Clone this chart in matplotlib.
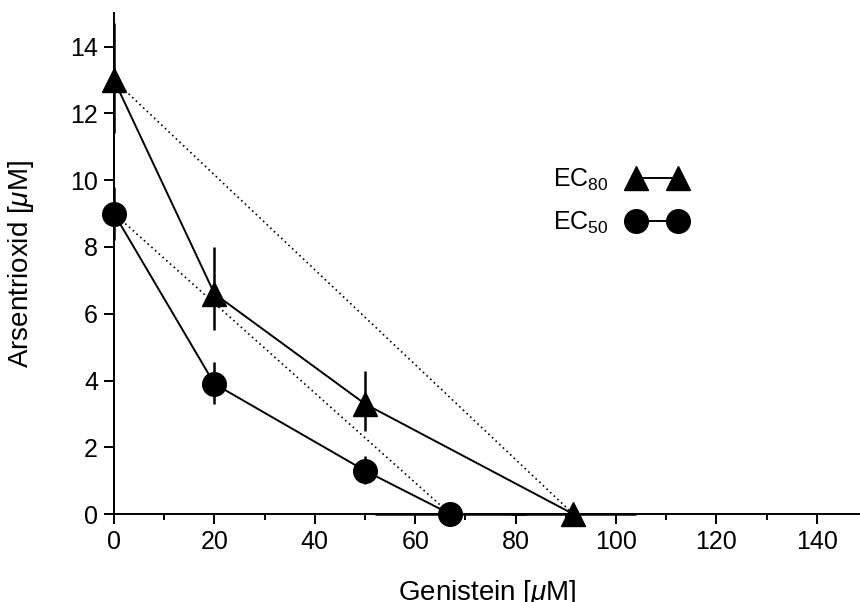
import matplotlib
matplotlib.use("Agg")
import matplotlib.pyplot as plt
from matplotlib.legend_handler import HandlerErrorbar
from matplotlib.ticker import MultipleLocator

plt.rcParams['font.family'] = ['Liberation Sans', 'DejaVu Sans']
plt.rcParams['mathtext.fontset'] = 'custom'
plt.rcParams['mathtext.rm'] = 'Liberation Sans'
plt.rcParams['mathtext.it'] = 'Liberation Sans:italic'

# EC80 isobole (triangles)
ec80_x = [0, 20, 50, 91.5]
ec80_y = [13.0, 6.6, 3.3, 0.0]
ec80_yerr_lo = [1.6, 1.1, 0.8, 0.0]
ec80_yerr_hi = [1.7, 1.4, 1.0, 0.0]
ec80_xerr = [0, 0, 0, 12.5]

# EC50 isobole (circles)
ec50_x = [0, 20, 50, 67]
ec50_y = [9.0, 3.9, 1.3, 0.0]
ec50_yerr_lo = [0.8, 0.6, 0.4, 0.0]
ec50_yerr_hi = [0.8, 0.65, 0.45, 0.0]
ec50_xerr = [0, 0, 0, 15]

fig = plt.figure(figsize=(8.6, 6.02), dpi=100)
ax = fig.add_axes([0.1326, 0.146, 0.8674, 0.832])

# additivity lines
ax.plot([ec80_x[0], ec80_x[-1]], [ec80_y[0], ec80_y[-1]], ls=(0, (1, 2)), color='black', lw=1.2)
ax.plot([ec50_x[0], ec50_x[-1]], [ec50_y[0], ec50_y[-1]], ls=(0, (1, 2)), color='black', lw=1.2)

ax.errorbar(ec80_x, ec80_y, yerr=[ec80_yerr_lo, ec80_yerr_hi], xerr=ec80_xerr,
            fmt='-^', color='black', ms=17, lw=1.4, elinewidth=1.8, capsize=0,
            label='EC$_{80}$', clip_on=False, zorder=3)
ax.errorbar(ec50_x, ec50_y, yerr=[ec50_yerr_lo, ec50_yerr_hi], xerr=ec50_xerr,
            fmt='-o', color='black', ms=17, lw=1.4, elinewidth=1.8, capsize=0,
            label='EC$_{50}$', clip_on=False, zorder=3)

ax.set_xlim(0, 148.6)
ax.set_ylim(0, 15)
ax.xaxis.set_major_locator(MultipleLocator(20))
ax.xaxis.set_minor_locator(MultipleLocator(10))
ax.set_yticks(range(0, 15, 2))

for s in ['top', 'right']:
    ax.spines[s].set_visible(False)
for s in ['left', 'bottom']:
    ax.spines[s].set_linewidth(1.4)
ax.tick_params(which='major', length=7.5, width=1.4, labelsize=18, pad=4)
ax.tick_params(which='minor', length=4, width=1.4)

ax.set_xlabel('Genistein [$\\mathit{\\mu}$M]', fontsize=20)
ax.set_ylabel('Arsentrioxid [$\\mathit{\\mu}$M]', fontsize=20)
ax.xaxis.set_label_coords(0.5, -0.128)
ax.yaxis.set_label_coords(-0.104, 0.5)

# plain marker-line-marker handles (no error bars, markers at the ends)
from matplotlib.lines import Line2D
h80 = Line2D([], [], color='black', marker='^', ms=17, lw=1.4)
h50 = Line2D([], [], color='black', marker='o', ms=17, lw=1.4)
from matplotlib.legend_handler import HandlerLine2D
leg = ax.legend([h80, h50], ['EC$_{80}$', 'EC$_{50}$'], loc='upper left',
                bbox_to_anchor=(0.588, 0.694),
                frameon=False, numpoints=2, markerfirst=False, fontsize=18,
                handlelength=1.7, labelspacing=0.67, handletextpad=1.1,
                borderpad=0, borderaxespad=0,
                handler_map={Line2D: HandlerLine2D(marker_pad=0)})

fig.savefig('out.png', dpi=100)
